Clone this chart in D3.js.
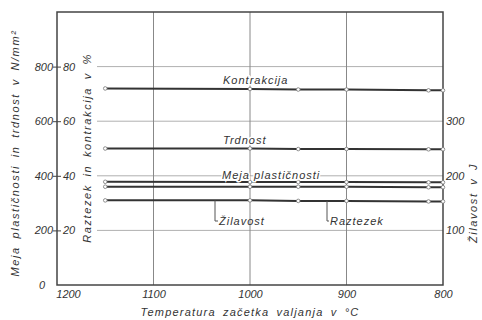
<!DOCTYPE html>
<html>
<head>
<meta charset="utf-8">
<script src="https://cdn.jsdelivr.net/npm/d3@7"></script>
<style>
  body { margin: 0; background: #fff; }
  text { font-family: "Liberation Sans", sans-serif; font-style: italic; fill: #333; }
</style>
</head>
<body>
<script>
let width = 482;
let height = 320;

// temperature of rolling start (°C) at which the samples were taken
let temps = [1150, 1000, 950, 900, 815, 800];
let kontrakcija = [72, 71.8, 71.6, 71.6, 71.3, 71.3];  // %
let trdnost = [500, 500, 498, 498, 497, 497];          // N/mm2
let mejaPlasticnosti = [378, 377, 377, 377, 376, 376]; // N/mm2
let raztezek = [36, 36, 36, 36, 35.8, 35.8];           // %
let zilavost = [155, 155, 154, 154, 153, 153];         // J

let xTicks = [1200, 1100, 1000, 900, 800];
let leftTicks = [0, 200, 400, 600, 800];
let pctTicks = [20, 40, 60, 80];
let rightTicks = [100, 200, 300];

let x = d3.scaleLinear().domain([1200, 800]).range([57, 443]);
let yN = d3.scaleLinear().domain([0, 1000]).range([285, 12]);
let yPct = d3.scaleLinear().domain([0, 100]).range([285, 12]);
let yJ = d3.scaleLinear().domain([0, 500]).range([285, 12]);

let svg = d3.select("body").append("svg")
    .attr("width", width)
    .attr("height", height);

// grid
svg.append("g").selectAll("line")
    .data(pctTicks)
    .enter().append("line")
    .attr("x1", 97).attr("x2", x(800))
    .attr("y1", d => yPct(d)).attr("y2", d => yPct(d))
    .style("stroke", "#b0b0b0").style("stroke-width", 1);

svg.append("g").selectAll("line")
    .data([1100, 1000, 900])
    .enter().append("line")
    .attr("x1", d => x(d)).attr("x2", d => x(d))
    .attr("y1", yN(1000)).attr("y2", yN(0))
    .style("stroke", "#888").style("stroke-width", 1);

// frame
svg.append("rect")
    .attr("x", x(1200)).attr("y", yN(1000))
    .attr("width", x(800) - x(1200)).attr("height", yN(0) - yN(1000))
    .style("fill", "none").style("stroke", "#444").style("stroke-width", 1.5);

// axes
let xAxis = svg.append("g")
    .attr("transform", "translate(0," + yN(0) + ")")
    .call(d3.axisBottom(x).tickValues(xTicks).tickFormat(d3.format("d")).tickSize(0).tickPadding(5));
xAxis.selectAll("text").attr("dx", d => d == 1200 ? 11 : 0);

let leftAxis = svg.append("g")
    .attr("transform", "translate(" + x(1200) + ",0)")
    .call(d3.axisLeft(yN).tickValues(leftTicks).tickSize(0).tickPadding(4));
leftAxis.selectAll("text").attr("dx", d => d == 0 ? -8 : 0);

let pctAxis = svg.append("g")
    .attr("transform", "translate(" + x(1200) + ",0)")
    .call(d3.axisRight(yPct).tickValues(pctTicks).tickSize(4).tickPadding(2));
pctAxis.selectAll("line").attr("x1", -4).style("stroke", "#444");

let rightAxis = svg.append("g")
    .attr("transform", "translate(" + x(800) + ",0)")
    .call(d3.axisRight(yJ).tickValues(rightTicks).tickSize(0).tickPadding(3));

svg.selectAll(".domain").remove();
svg.selectAll(".tick text")
    .style("font-size", "11px")
    .style("font-family", "Liberation Sans, sans-serif")
    .style("font-style", "italic")
    .style("fill", "#333");

// series
let series = [
    { name: "Kontrakcija", values: kontrakcija, y: yPct },
    { name: "Trdnost", values: trdnost, y: yN },
    { name: "Meja plastičnosti", values: mejaPlasticnosti, y: yN },
    { name: "Raztezek", values: raztezek, y: yPct },
    { name: "Žilavost", values: zilavost, y: yJ },
];

series.forEach(s => {
    let line = d3.line()
        .x((d, i) => x(temps[i]))
        .y(d => s.y(d));
    svg.append("path")
        .attr("d", line(s.values))
        .style("fill", "none")
        .style("stroke", "#333")
        .style("stroke-width", 2);
    svg.append("g").selectAll("circle")
        .data(s.values)
        .enter().append("circle")
        .attr("cx", (d, i) => x(temps[i]))
        .attr("cy", d => s.y(d))
        .attr("r", 1.8)
        .style("fill", "#fff")
        .style("stroke", "#777")
        .style("stroke-width", 0.8);
});

// labels on the lines
function label(txt, lx, ly) {
    svg.append("text")
        .attr("x", lx).attr("y", ly)
        .style("font-size", "11px")
        .style("letter-spacing", "1px")
        .style("paint-order", "stroke")
        .style("stroke", "#fff").style("stroke-width", 3)
        .text(txt);
}
label("Kontrakcija", 223, yPct(kontrakcija[1]) - 5);
label("Trdnost", 223, yN(trdnost[1]) - 5);
label("Meja plastičnosti", 222, yN(mejaPlasticnosti[1]) - 3);

// leaders
function leader(lx, fromY, toY, tx, txt) {
    svg.append("path")
        .attr("d", "M" + lx + "," + fromY + "V" + toY + "H" + (tx - 1))
        .style("fill", "none").style("stroke", "#555").style("stroke-width", 1);
    svg.append("text")
        .attr("x", tx).attr("y", toY + 4)
        .style("font-size", "11px")
        .style("letter-spacing", "1px")
        .text(txt);
}
leader(215, yJ(zilavost[1]), 221, 219, "Žilavost");
leader(327, yJ(zilavost[3]), 221, 330, "Raztezek");

// axis titles
function vtitle(txt, tx, ty, spacing) {
    svg.append("text")
        .attr("transform", "translate(" + tx + "," + ty + ") rotate(-90)")
        .attr("text-anchor", "middle")
        .style("font-size", "11px")
        .style("letter-spacing", spacing + "px")
        .style("word-spacing", "3px")
        .text(txt);
}
vtitle("Meja plastičnosti in trdnost v N/mm²", 19, 153, 1.6);
vtitle("Raztezek in kontrakcija v %", 91, 148, 1.6);
vtitle("Žilavost v J", 477, 203, 1.6);

svg.append("text")
    .attr("x", 250).attr("y", 316)
    .attr("text-anchor", "middle")
    .style("font-size", "11px")
    .style("letter-spacing", "1.2px")
    .style("word-spacing", "3px")
    .text("Temperatura začetka valjanja v °C");
</script>
</body>
</html>
